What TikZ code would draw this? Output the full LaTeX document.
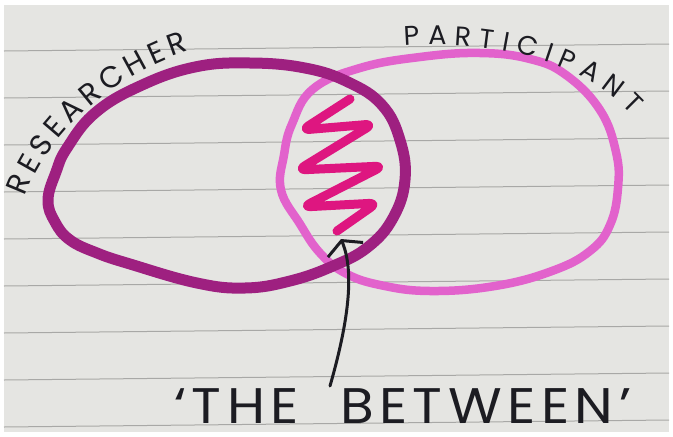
\documentclass[tikz,border=0pt]{standalone}
\usepackage{fontspec}
\newfontfamily\hand{Poppins}
\newfontfamily\handwide{Poppins}[LetterSpace=10]
\usetikzlibrary{arrows.meta,decorations.text}
\definecolor{paper}{RGB}{229,229,226}
\definecolor{ruleg}{RGB}{168,168,166}
\definecolor{resdark}{RGB}{158,32,128}
\definecolor{partpink}{RGB}{226,98,204}
\definecolor{wigpink}{RGB}{222,22,128}
\definecolor{ink}{RGB}{28,28,34}

\begin{document}
\begin{tikzpicture}[
  x=1pt, y=-1pt,
  rule/.style  = {draw=ruleg, line width=1pt},
  Rloop/.style = {draw=resdark, line width=11pt, line join=round},
  Ploop/.style = {draw=partpink, line width=8.5pt, line join=round},
  wig/.style   = {draw=wigpink, line width=9pt, line cap=round,
                  line join=round, rounded corners=8pt},
  arr/.style   = {-{Straight Barb[length=10pt,width=38pt]},
                  line width=3pt, draw=ink, line cap=round},
  lbl/.style   = {font=\handwide\fontsize{50}{50}\selectfont, text=ink,
                  inner sep=0pt, text depth=0pt}
]
\useasboundingbox (0,0) rectangle (673,437);

% sheet of lined paper
\fill[white] (0,0) rectangle (673,437);
\fill[paper] (4,5) rectangle (669,432);
\foreach \i in {0,...,8}
  \draw[rule] (4,{51+47*\i}) -- (669,{44+47*\i});

% the two loops
\draw[Ploop] plot[smooth cycle, tension=0.7] coordinates {
  (281,190) (284,155) (292,124) (313,89) (360,68) (420,57) (480,53)
  (530,59) (566,75) (600,110) (616,152) (618,188) (610,225) (590,251)
  (552,271) (495,286) (430,291) (380,285) (345,273) (320,253) (300,224)};
\draw[Rloop] plot[smooth cycle, tension=0.7] coordinates {
  (48,200) (56,172) (67,148) (95,113) (140,86) (195,67) (250,63)
  (305,68) (348,82) (382,105) (400,140) (405,180) (393,218) (368,247)
  (333,266) (290,281) (245,288) (197,283) (130,264) (97,253) (70,240)
  (55,222)};

% zigzag in the overlap
\draw[wig] (350,99) -- (302,130) -- (373,124) -- (298,170) -- (383,166)
  -- (303,207) -- (377,203) -- (337,231);

% curved labels
\path[decorate, decoration={text along path, text align={fit to path},
  text color=ink, text={|\hand\fontsize{30}{30}\selectfont|RESEARCHER}}]
  (25,197) .. controls (45,140) and (105,78) .. (189,51);
\path[decorate, decoration={text along path, text align={fit to path},
  text color=ink, text={|\hand\fontsize{27}{27}\selectfont|PARTICIPANT}}]
  (405,46) .. controls (490,40) and (580,58) .. (632,115);

% label and pointer
\node[lbl, xscale=1.1, anchor=base west] (BTW) at (174,423)
  {‘THE\hskip0.75em BETWEEN’};
\coordinate (tail) at (330,386);
\coordinate (tip)  at (341,239);
\draw[arr] (tail) .. controls (346,330) and (356,275) .. (tip);

\end{tikzpicture}
\end{document}
